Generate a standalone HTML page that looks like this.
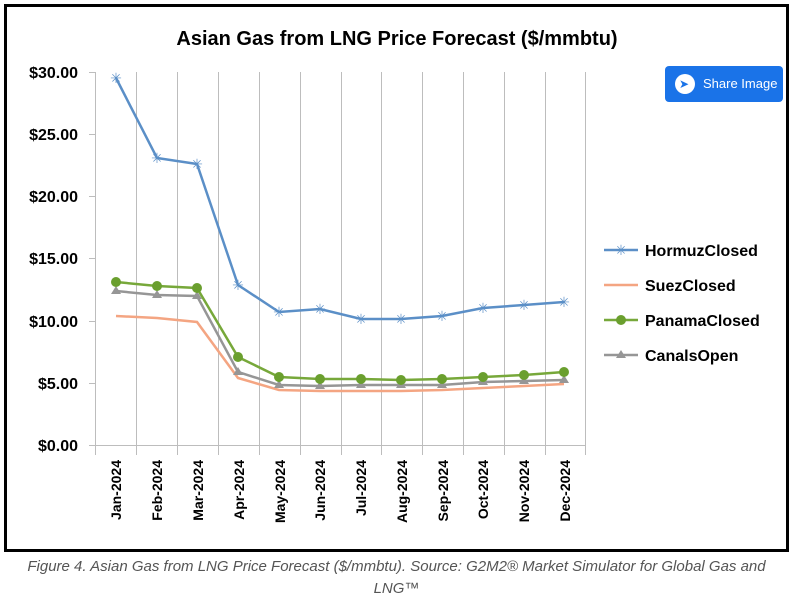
<!DOCTYPE html>
<html><head><meta charset="utf-8"><style>
body{margin:0;background:#fff;width:793px;height:602px;overflow:hidden;font-family:"Liberation Sans",sans-serif}
.box{position:absolute;left:4px;top:4px;width:779px;height:542px;border:3px solid #000;background:#fff}
.cap{position:absolute;left:0;top:556px;width:793px;text-align:center;font-style:italic;color:#555;font-size:15px;line-height:22px}
.btn{position:absolute;left:665px;top:66px;width:118px;height:36px;background:#1a73e8;border-radius:4px;color:#fff;font-size:13px;line-height:36px}
</style></head><body>
<div class="box"></div>
<svg style="position:absolute;left:0;top:0" width="793" height="602">
<text x="397" y="45" text-anchor="middle" font-size="20" font-weight="bold" font-family="Liberation Sans">Asian Gas from LNG Price Forecast ($/mmbtu)</text>
<g stroke="#bdbdbd" stroke-width="1">
<line x1="95.5" y1="72" x2="95.5" y2="455"/><line x1="136.5" y1="72" x2="136.5" y2="455"/><line x1="177.5" y1="72" x2="177.5" y2="455"/><line x1="218.5" y1="72" x2="218.5" y2="455"/><line x1="259.5" y1="72" x2="259.5" y2="455"/><line x1="300.5" y1="72" x2="300.5" y2="455"/><line x1="341.5" y1="72" x2="341.5" y2="455"/><line x1="381.5" y1="72" x2="381.5" y2="455"/><line x1="422.5" y1="72" x2="422.5" y2="455"/><line x1="463.5" y1="72" x2="463.5" y2="455"/><line x1="504.5" y1="72" x2="504.5" y2="455"/><line x1="545.5" y1="72" x2="545.5" y2="455"/><line x1="585.5" y1="72" x2="585.5" y2="455"/>
<line x1="89" y1="445.5" x2="586" y2="445.5"/>
<line x1="89" y1="72.5" x2="95" y2="72.5"/><line x1="89" y1="134.5" x2="95" y2="134.5"/><line x1="89" y1="196.5" x2="95" y2="196.5"/><line x1="89" y1="258.5" x2="95" y2="258.5"/><line x1="89" y1="321.5" x2="95" y2="321.5"/><line x1="89" y1="383.5" x2="95" y2="383.5"/>
</g>
<g font-size="16" font-weight="bold" text-anchor="end" font-family="Liberation Sans">
<text x="78" y="78">$30.00</text><text x="78" y="140">$25.00</text><text x="78" y="202">$20.00</text><text x="78" y="264">$15.00</text><text x="78" y="327">$10.00</text><text x="78" y="389">$5.00</text><text x="78" y="451">$0.00</text>
</g>
<g font-size="14" font-weight="bold" text-anchor="end" font-family="Liberation Sans">
<text transform="translate(121,460) rotate(-90)">Jan-2024</text><text transform="translate(162,460) rotate(-90)">Feb-2024</text><text transform="translate(203,460) rotate(-90)">Mar-2024</text><text transform="translate(244,460) rotate(-90)">Apr-2024</text><text transform="translate(285,460) rotate(-90)">May-2024</text><text transform="translate(325,460) rotate(-90)">Jun-2024</text><text transform="translate(366,460) rotate(-90)">Jul-2024</text><text transform="translate(407,460) rotate(-90)">Aug-2024</text><text transform="translate(448,460) rotate(-90)">Sep-2024</text><text transform="translate(488,460) rotate(-90)">Oct-2024</text><text transform="translate(529,460) rotate(-90)">Nov-2024</text><text transform="translate(570,460) rotate(-90)">Dec-2024</text>
</g>
<polyline fill="none" stroke="#f4a582" stroke-width="2.5" points="116,316 157,318 197,322 238,378 279,390 320,391 361,391 401,391 442,390 483,388 524,386 564,384"/>
<polyline fill="none" stroke="#969696" stroke-width="2.5" points="116,291 157,295 197,296 238,372 279,385 320,386 361,385 401,385 442,385 483,382 524,381 564,380"/>
<g fill="#969696"><path d="M116,286 l5,8 h-10z"/><path d="M157,290 l5,8 h-10z"/><path d="M197,291 l5,8 h-10z"/><path d="M238,367 l5,8 h-10z"/><path d="M279,380 l5,8 h-10z"/><path d="M320,381 l5,8 h-10z"/><path d="M361,380 l5,8 h-10z"/><path d="M401,380 l5,8 h-10z"/><path d="M442,380 l5,8 h-10z"/><path d="M483,377 l5,8 h-10z"/><path d="M524,376 l5,8 h-10z"/><path d="M564,375 l5,8 h-10z"/></g>
<polyline fill="none" stroke="#77a83a" stroke-width="2.5" points="116,282 157,286 197,288 238,357 279,377 320,379 361,379 401,380 442,379 483,377 524,375 564,372"/>
<g fill="#6a9f2e"><circle cx="116" cy="282" r="5"/><circle cx="157" cy="286" r="5"/><circle cx="197" cy="288" r="5"/><circle cx="238" cy="357" r="5"/><circle cx="279" cy="377" r="5"/><circle cx="320" cy="379" r="5"/><circle cx="361" cy="379" r="5"/><circle cx="401" cy="380" r="5"/><circle cx="442" cy="379" r="5"/><circle cx="483" cy="377" r="5"/><circle cx="524" cy="375" r="5"/><circle cx="564" cy="372" r="5"/></g>
<polyline fill="none" stroke="#5b8fc7" stroke-width="2.5" points="116,78 157,158 197,164 238,285 279,312 320,309 361,319 401,319 442,316 483,308 524,305 564,302"/>
<g fill="#5b8fc7" font-size="14" text-anchor="middle" font-family="DejaVu Sans"><text x="116" y="83">✳</text><text x="157" y="163">✳</text><text x="197" y="169">✳</text><text x="238" y="290">✳</text><text x="279" y="317">✳</text><text x="320" y="314">✳</text><text x="361" y="324">✳</text><text x="401" y="324">✳</text><text x="442" y="321">✳</text><text x="483" y="313">✳</text><text x="524" y="310">✳</text><text x="564" y="307">✳</text></g>
<line x1="604" y1="250" x2="638" y2="250" stroke="#5b8fc7" stroke-width="2.5"/><text x="621" y="255" fill="#5b8fc7" font-size="14" text-anchor="middle" font-family="DejaVu Sans">✳</text>
<line x1="604" y1="285" x2="638" y2="285" stroke="#f4a582" stroke-width="2.5"/>
<line x1="604" y1="320" x2="638" y2="320" stroke="#77a83a" stroke-width="2.5"/><circle cx="621" cy="320" r="5" fill="#6a9f2e"/>
<line x1="604" y1="355" x2="638" y2="355" stroke="#969696" stroke-width="2.5"/><path d="M621,350 l5,8 h-10z" fill="#969696"/>
<g font-size="16" font-weight="bold" font-family="Liberation Sans"><text x="645" y="256">HormuzClosed</text><text x="645" y="291">SuezClosed</text><text x="645" y="326">PanamaClosed</text><text x="645" y="361">CanalsOpen</text></g>
</svg>
<div class="btn"><span style="position:absolute;left:10px;top:8px;width:20px;height:20px;border-radius:50%;background:#fff"></span><span style="position:absolute;left:14px;top:0;color:#1a73e8;font-size:12px">➤</span><span style="position:absolute;left:38px">Share Image</span></div>
<div class="cap">Figure 4. Asian Gas from LNG Price Forecast ($/mmbtu). Source: G2M2® Market Simulator for Global Gas and<br>LNG™</div>
</body></html>
